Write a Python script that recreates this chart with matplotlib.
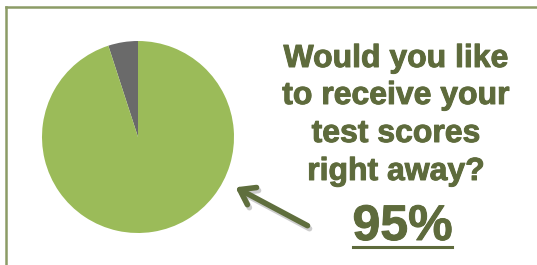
import matplotlib.pyplot as plt
import matplotlib.patheffects as pe
from matplotlib.lines import Line2D
from matplotlib.patches import FancyArrowPatch

W, H = 537, 265

labels = ["No", "Yes"]
shares = [5, 95]
colors = ["#6A6A6A", "#9BBB59"]
question = ["Would you like", "to receive your", "test scores", "right away?"]
answer = "95%"

TEXT = "#5E6B3C"
BORDER = "#8C9C66"


def px(x, y):
    return x / W, 1 - y / H


fig = plt.figure(figsize=(W / 100, H / 100), dpi=100)
fig.patch.set_facecolor("white")

# frame: only top and left edges visible
fig.add_artist(Line2D([6 / W, 6 / W], [0, 1 - 7 / H], color=BORDER, lw=1.8))
fig.add_artist(Line2D([6 / W, 1], [1 - 7 / H, 1 - 7 / H], color=BORDER, lw=1.8))

# pie: centre (138, 137), radius 96 px
cx, cy, r = 138, 137, 96
ax = fig.add_axes([(cx - r) / W, (H - cy - r) / H, 2 * r / W, 2 * r / H])
ax.pie(shares, colors=colors, startangle=90, counterclock=True,
       wedgeprops=dict(linewidth=0))
ax.set_aspect("auto")
ax.set_xlim(-1, 1)
ax.set_ylim(-1, 1)
ax.axis("off")

# slightly heavier strokes, like the original's bold Arial
heavy = [pe.withStroke(linewidth=0.7, foreground=TEXT)]

# question text
baselines = [67, 104, 142, 180]
for line, yb in zip(question, baselines):
    fig.text(*px(396, yb), line, ha="center", va="baseline",
             fontsize=23, fontweight="bold", color=TEXT,
             family=["Liberation Sans", "DejaVu Sans"], path_effects=heavy)

fig.text(*px(402.5, 240), answer, ha="center", va="baseline",
         fontsize=36, fontweight="bold", color=TEXT,
         family=["Liberation Sans", "DejaVu Sans"], path_effects=heavy)
fig.add_artist(Line2D([353 / W, 452 / W], [1 - 246.5 / H] * 2, color=TEXT, lw=2.2))

# arrow pointing at the pie, with a soft shadow
for dx, dy, col, a in [(2, 3, "#9A9A9A", 0.5), (0, 0, "#5F6E3D", 1.0)]:
    arr = FancyArrowPatch(px(310 + dx, 227 + dy), px(233 + dx, 186 + dy),
                          transform=fig.transFigure,
                          arrowstyle="->,head_length=10,head_width=7",
                          color=col, alpha=a, lw=4, capstyle="round",
                          joinstyle="round", mutation_scale=1)
    fig.add_artist(arr)

fig.savefig("out.png", dpi=100)
